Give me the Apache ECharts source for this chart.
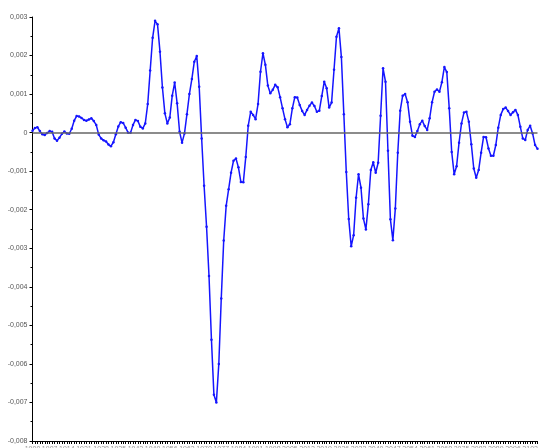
<!DOCTYPE html>
<html>
<head>
<meta charset="utf-8">
<script src="https://cdn.jsdelivr.net/npm/echarts@6/dist/echarts.min.js"></script>
<style>
html,body{margin:0;padding:0;background:#fff;}
#chart{width:539px;height:448px;}
</style>
</head>
<body>
<div id="chart"></div>
<script>
// Series values (first part, x ≈ 32–138 px)
var valuesA = [0.00005,0.00012,0.00014,0.00004,-0.00004,-0.00006,-0.00001,0.00004,0.00002,-0.00015,
  -0.00021,-0.00013,-0.00003,0.00003,-0.00002,-0.00003,0.0001,0.00031,0.00043,0.00042,
  0.00038,0.00033,0.00031,0.00034,0.00037,0.0003,0.0002,-0.00005,-0.00015,-0.0002,
  -0.00023,-0.00031,-0.00035,-0.00025,-0.00004,0.00016,0.00027,0.00025,0.00013,0,
  0,0.0002,0.00033,0.0003];
var valuesB = [0.00015,0.00011,0.00024,0.00074,0.00161,0.00246,0.0029,0.00281,0.0021,0.00117,
  0.0005,0.00024,0.00039,0.00096,0.0013,0.00076,0.00002,-0.00026,-0.00002,0.00048,
  0.001,0.00139,0.00184,0.00199,0.00119,-0.00015];
var valuesC = [-0.00138,-0.00244,-0.00372,-0.00537,-0.0068,-0.0070,-0.006,-0.0043,-0.0028,-0.0019,
  -0.00147,-0.00104,-0.00073,-0.00067,-0.0009,-0.00128];
var valuesD = [-0.00129,-0.00063,0.00018,0.00054,0.00046,0.00035,0.00074,0.00158,0.00206,0.00176,
  0.00122,0.00102,0.00111,0.00124,0.00118,0.00092,0.00063,0.00035,0.00014,0.00022,
  0.00063,0.00092,0.00091,0.00072,0.00056,0.00046,0.00059,0.0007,0.00078,0.00069,
  0.00054,0.00057,0.00095,0.00132,0.00115,0.00065,0.00078,0.00163,0.00249,0.00271,
  0.00196,0.00048,-0.00102,-0.00224,-0.00295,-0.00266,-0.00169,-0.00108,-0.00143,-0.00223,
  -0.00251,-0.00186,-0.00097,-0.00077,-0.00104,-0.00078];
var valuesE = [0.00044,0.00167,0.00132,-0.00047,-0.00225,-0.00279,-0.00197,-0.00052,0.00057,0.00096,
  0.001,0.00079,0.00028,-0.00008,-0.00011,0.00004,0.00022,0.00031,0.00017,0.00007,
  0.00037,0.00079,0.00106,0.00112,0.00106,0.00131,0.0017,0.00157,0.00063,-0.0005,
  -0.00108,-0.00087,-0.00026,0.00024,0.00052,0.00054,0.00028,-0.0003,-0.00093,-0.00117,
  -0.00097,-0.00052,-0.00011,-0.00012,-0.00041,-0.0006,-0.0006,-0.00032,0.00013,0.00046,
  0.00061,0.00065,0.00056,0.00046,0.00053,0.00059,0.00046,0.00015,-0.00015,-0.00019,
  0.00007,0.00018,-0.00002,-0.00032,-0.00042];
var values = valuesA.concat(valuesB, valuesC, valuesD, valuesE);

// Categories: sample numbers (labels are clipped off in the reference)
var categories = [];
for (var k = 0; k < values.length; k++) categories.push(String(1900 + k));

// Y axis ticks
var yMin = -0.008, yMax = 0.003, yStep = 0.001;
var zeroLine = 0;

var chart = echarts.init(document.getElementById('chart'), null, {renderer: 'canvas'});
chart.setOption({
  animation: false,
  backgroundColor: '#ffffff',
  grid: {left: 32.5, right: 1.5, top: 17, bottom: 7, containLabel: false, outerBoundsMode: 'none'},
  xAxis: {
    type: 'category',
    data: categories,
    boundaryGap: false,
    axisLine: {onZero: false, lineStyle: {color: '#000', width: 1}},
    axisTick: {show: true, interval: 0, length: 3, lineStyle: {color: '#000', width: 1}},
    axisLabel: {show: true, interval: 6, fontSize: 7, color: '#999', margin: 5, fontFamily: 'Liberation Sans'},
    splitLine: {show: false}
  },
  yAxis: {
    type: 'value',
    min: yMin, max: yMax, interval: yStep,
    axisLine: {show: true, lineStyle: {color: '#000', width: 1}},
    axisTick: {show: true, length: 3, lineStyle: {color: '#000'}},
    minorTick: {show: true, splitNumber: 2, length: 2, lineStyle: {color: '#000'}},
    axisLabel: {
      fontSize: 7, color: '#555', margin: 5, fontFamily: 'Liberation Sans',
      formatter: function (v) {
        var r = Math.round(v * 1000) / 1000;
        if (r === 0) return '0';
        return r.toFixed(3).replace('.', ',');
      }
    },
    splitLine: {show: false}
  },
  series: [{
    type: 'line',
    data: values,
    smooth: false,
    symbol: 'circle',
    symbolSize: 2.5,
    showSymbol: true,
    showAllSymbol: true,
    itemStyle: {color: '#1515ff'},
    lineStyle: {color: '#1515ff', width: 1.5},
    markLine: {
      silent: true,
      symbol: 'none',
      label: {show: false},
      lineStyle: {color: '#666', width: 1.5, type: 'solid'},
      data: [{yAxis: zeroLine}]
    }
  }]
});
</script>
</body>
</html>
